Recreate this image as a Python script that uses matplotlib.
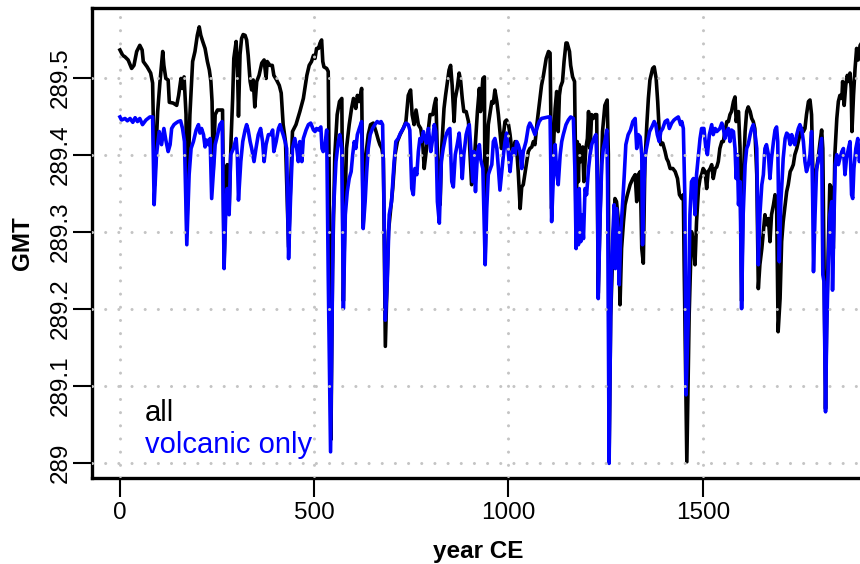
import matplotlib
matplotlib.use("Agg")
import matplotlib.pyplot as plt

plt.rcParams['font.family'] = ['Liberation Sans', 'DejaVu Sans']

# ---- data ----
years_all = [0, 7, 13, 21, 30, 36, 43, 51, 57, 60, 70, 79, 84, 89, 97, 103, 110, 113, 118, 124,
             127, 137, 146, 151, 157, 161, 165, 170, 172, 177, 180, 187, 193, 199, 204, 208, 213, 219, 225, 230,
             234, 237, 240, 245, 251, 264, 268, 273, 276, 281, 286, 290, 293, 299, 303, 305, 309, 313, 317, 322,
             326, 330, 335, 339, 343, 347, 352, 358, 365, 371, 376, 379, 386, 392, 396, 403, 410, 415, 420, 426,
             434, 439, 444, 453, 463, 472, 481, 487, 493, 498, 502, 506, 511, 515, 519, 522, 525, 532, 536, 538,
             541, 543, 547, 553, 559, 565, 571, 575, 579, 583, 590, 596, 601, 607, 611, 616, 622, 626, 633, 639,
             645, 652, 659, 665, 669, 674, 678, 683, 691, 697, 702, 708, 714, 721, 729, 736, 742, 748, 752, 757,
             762, 768, 774, 779, 783, 789, 794, 798, 805, 809, 813, 817, 824, 828, 834, 838, 843, 847, 851, 855,
             860, 863, 868, 873, 877, 881, 885, 891, 897, 901, 905, 910, 914, 920, 925, 928, 934, 938, 940, 944,
             948, 957, 961, 965, 970, 974, 978, 982, 987, 991, 995, 1000, 1004, 1008, 1012, 1017, 1021, 1025, 1030, 1034,
             1038, 1043, 1047, 1051, 1055, 1060, 1064, 1068, 1073, 1079, 1085, 1090, 1097, 1103, 1107, 1109, 1111, 1115, 1120, 1124,
             1128, 1131, 1134, 1139, 1143, 1148, 1151, 1157, 1160, 1165, 1170, 1172, 1174, 1177, 1180, 1182, 1186, 1191, 1194, 1199,
             1203, 1206, 1210, 1214, 1218, 1223, 1227, 1231, 1236, 1242, 1248, 1254, 1257, 1259, 1263, 1268, 1274, 1278, 1283, 1287,
             1291, 1296, 1300, 1306, 1313, 1320, 1326, 1330, 1334, 1339, 1343, 1347, 1351, 1356, 1360, 1364, 1371, 1375, 1380, 1384,
             1388, 1392, 1397, 1403, 1407, 1411, 1416, 1423, 1429, 1435, 1440, 1446, 1450, 1452, 1459, 1465, 1471, 1476, 1480, 1484,
             1489, 1493, 1497, 1501, 1506, 1510, 1514, 1519, 1523, 1527, 1532, 1536, 1540, 1544, 1549, 1553, 1557, 1562, 1566, 1570,
             1574, 1579, 1583, 1586, 1589, 1592, 1596, 1600, 1604, 1609, 1613, 1617, 1622, 1626, 1630, 1634, 1639, 1643, 1647, 1652,
             1656, 1660, 1664, 1669, 1673, 1677, 1682, 1686, 1690, 1694, 1699, 1703, 1707, 1712, 1716, 1720, 1725, 1729, 1733, 1737,
             1742, 1746, 1750, 1755, 1759, 1763, 1767, 1772, 1776, 1780, 1783, 1786, 1789, 1793, 1797, 1802, 1806, 1809, 1816, 1819,
             1823, 1827, 1832, 1836, 1840, 1845, 1849, 1853, 1858, 1860, 1864, 1868, 1872, 1876, 1879, 1882, 1884, 1888, 1892, 1896,
             1900, 1905, 1915]
gmt_all = [289.536, 289.529, 289.527, 289.523, 289.512, 289.516, 289.534, 289.542, 289.536, 289.521, 289.514, 289.506, 289.493, 289.36, 289.456, 289.495, 289.534, 289.516, 289.499, 289.497,
           289.468, 289.467, 289.464, 289.477, 289.499, 289.486, 289.501, 289.452, 289.30, 289.40, 289.452, 289.521, 289.534, 289.555, 289.566, 289.555, 289.547, 289.538, 289.521, 289.510,
           289.495, 289.469, 289.38, 289.452, 289.458, 289.458, 289.26, 289.36, 289.387, 289.33, 289.42, 289.473, 289.525, 289.547, 289.50, 289.45, 289.53, 289.551, 289.556, 289.555,
           289.549, 289.529, 289.495, 289.484, 289.497, 289.462, 289.495, 289.503, 289.519, 289.523, 289.499, 289.521, 289.516, 289.516, 289.503, 289.497, 289.490, 289.480, 289.439, 289.417,
           289.28, 289.36, 289.430, 289.439, 289.456, 289.473, 289.503, 289.516, 289.521, 289.529, 289.525, 289.538, 289.538, 289.545, 289.549, 289.521, 289.514, 289.512, 289.508, 289.40,
           289.20, 289.03, 289.25, 289.400, 289.452, 289.469, 289.473, 289.21, 289.33, 289.408, 289.439, 289.460, 289.473, 289.460, 289.477, 289.469, 289.486, 289.31, 289.400, 289.426,
           289.439, 289.441, 289.430, 289.419, 289.413, 289.408, 289.395, 289.151, 289.300, 289.330, 289.356, 289.400, 289.417, 289.426, 289.434, 289.443, 289.477, 289.484, 289.452, 289.439,
           289.458, 289.439, 289.434, 289.417, 289.382, 289.408, 289.434, 289.452, 289.452, 289.464, 289.473, 289.400, 289.335, 289.408, 289.460, 289.477, 289.495, 289.510, 289.516, 289.490,
           289.443, 289.473, 289.486, 289.506, 289.495, 289.473, 289.456, 289.456, 289.443, 289.400, 289.361, 289.374, 289.408, 289.456, 289.486, 289.456, 289.499, 289.501, 289.27, 289.38,
           289.439, 289.469, 289.467, 289.484, 289.469, 289.452, 289.430, 289.408, 289.426, 289.443, 289.445, 289.439, 289.426, 289.408, 289.400, 289.417, 289.408, 289.378, 289.330, 289.358,
           289.361, 289.378, 289.391, 289.404, 289.408, 289.410, 289.417, 289.413, 289.439, 289.464, 289.490, 289.503, 289.525, 289.534, 289.532, 289.447, 289.33, 289.400, 289.460, 289.482,
           289.430, 289.477, 289.488, 289.495, 289.521, 289.545, 289.545, 289.534, 289.516, 289.501, 289.495, 289.417, 289.29, 289.417, 289.365, 289.413, 289.391, 289.410, 289.365, 289.408,
           289.421, 289.456, 289.408, 289.452, 289.447, 289.452, 289.452, 289.22, 289.33, 289.430, 289.464, 289.471, 289.400, 289.01, 289.19, 289.270, 289.343, 289.339, 289.313, 289.205,
           289.278, 289.313, 289.335, 289.348, 289.361, 289.369, 289.374, 289.339, 289.374, 289.378, 289.278, 289.259, 289.387, 289.439, 289.473, 289.497, 289.512, 289.514, 289.499, 289.469,
           289.430, 289.413, 289.415, 289.404, 289.395, 289.391, 289.382, 289.382, 289.378, 289.369, 289.348, 289.343, 289.348, 289.261, 289.001, 289.192, 289.300, 289.287, 289.257, 289.313,
           289.356, 289.369, 289.374, 289.382, 289.378, 289.356, 289.378, 289.382, 289.387, 289.369, 289.382, 289.384, 289.391, 289.408, 289.417, 289.417, 289.430, 289.443, 289.443, 289.452,
           289.456, 289.469, 289.475, 289.443, 289.452, 289.456, 289.408, 289.21, 289.365, 289.430, 289.456, 289.462, 289.456, 289.447, 289.443, 289.434, 289.374, 289.226, 289.257, 289.278,
           289.300, 289.322, 289.309, 289.317, 289.287, 289.322, 289.335, 289.348, 289.339, 289.170, 289.213, 289.287, 289.313, 289.335, 289.352, 289.361, 289.378, 289.382, 289.387, 289.400,
           289.408, 289.417, 289.426, 289.434, 289.430, 289.434, 289.452, 289.469, 289.471, 289.452, 289.387, 289.339, 289.365, 289.382, 289.395, 289.417, 289.432, 289.408, 289.07, 289.192,
           289.278, 289.361, 289.356, 289.278, 289.400, 289.447, 289.469, 289.477, 289.473, 289.495, 289.464, 289.490, 289.503, 289.495, 289.506, 289.486, 289.430, 289.477, 289.512, 289.538,
           289.523, 289.542, 289.55]

years_volc = [0, 4, 13, 19, 26, 33, 39, 45, 51, 58, 67, 77, 84, 88, 94, 101, 107, 113, 118, 124,
              129, 133, 139, 144, 150, 156, 161, 166, 172, 178, 183, 189, 196, 202, 206, 210, 215, 219, 223, 227,
              232, 236, 240, 245, 249, 257, 263, 268, 273, 276, 281, 285, 292, 299, 302, 305, 311, 316, 322, 326,
              330, 335, 339, 345, 350, 356, 362, 367, 371, 376, 382, 388, 393, 396, 402, 408, 412, 416, 420, 425,
              429, 434, 439, 444, 450, 455, 459, 463, 468, 472, 479, 485, 491, 498, 502, 506, 511, 517, 520, 523,
              528, 532, 536, 542, 549, 556, 562, 566, 571, 575, 580, 585, 590, 595, 599, 603, 607, 611, 616, 622,
              626, 631, 635, 639, 644, 650, 656, 662, 668, 672, 676, 680, 683, 688, 693, 699, 705, 710, 716, 722,
              729, 736, 742, 746, 751, 755, 759, 764, 768, 772, 776, 781, 785, 789, 794, 800, 805, 809, 813, 817,
              822, 827, 832, 837, 841, 845, 849, 854, 858, 863, 868, 873, 877, 881, 885, 891, 895, 899, 903, 908,
              911, 915, 920, 925, 928, 934, 937, 940, 944, 948, 952, 957, 961, 965, 970, 974, 978, 982, 987, 991,
              995, 1000, 1004, 1008, 1012, 1017, 1021, 1025, 1030, 1034, 1038, 1045, 1051, 1055, 1062, 1068, 1073, 1079, 1085, 1094,
              1103, 1107, 1111, 1115, 1120, 1124, 1128, 1133, 1137, 1141, 1148, 1154, 1160, 1167, 1171, 1174, 1177, 1180, 1182, 1186,
              1189, 1193, 1197, 1201, 1206, 1210, 1214, 1220, 1225, 1229, 1231, 1236, 1240, 1244, 1248, 1253, 1255, 1259, 1263, 1266,
              1272, 1275, 1278, 1283, 1285, 1289, 1294, 1298, 1302, 1308, 1314, 1320, 1326, 1330, 1334, 1339, 1343, 1345, 1349, 1352,
              1357, 1363, 1369, 1375, 1379, 1383, 1388, 1392, 1397, 1403, 1409, 1414, 1420, 1426, 1431, 1437, 1443, 1446, 1450, 1454,
              1457, 1463, 1467, 1471, 1476, 1480, 1484, 1489, 1493, 1497, 1503, 1508, 1512, 1517, 1523, 1527, 1532, 1536, 1540, 1544,
              1549, 1553, 1557, 1562, 1566, 1570, 1574, 1579, 1583, 1586, 1589, 1592, 1596, 1600, 1604, 1609, 1613, 1617, 1622, 1626,
              1630, 1634, 1639, 1643, 1647, 1652, 1656, 1660, 1664, 1669, 1673, 1677, 1682, 1686, 1690, 1693, 1697, 1701, 1704, 1707,
              1712, 1716, 1720, 1725, 1729, 1733, 1737, 1742, 1746, 1750, 1755, 1759, 1763, 1767, 1772, 1776, 1780, 1783, 1785, 1789,
              1793, 1797, 1802, 1806, 1809, 1812, 1816, 1819, 1823, 1827, 1832, 1834, 1838, 1841, 1845, 1849, 1853, 1858, 1862, 1866,
              1870, 1875, 1879, 1883, 1886, 1889, 1894, 1899, 1903, 1909, 1915]
gmt_volc = [289.449, 289.445, 289.447, 289.444, 289.447, 289.442, 289.448, 289.443, 289.447, 289.439, 289.445, 289.449, 289.449, 289.335, 289.400, 289.430, 289.413, 289.434, 289.419, 289.404,
            289.413, 289.434, 289.439, 289.441, 289.443, 289.444, 289.434, 289.417, 289.283, 289.374, 289.408, 289.417, 289.432, 289.439, 289.428, 289.434, 289.426, 289.410, 289.419, 289.413,
            289.421, 289.343, 289.374, 289.413, 289.421, 289.439, 289.443, 289.252, 289.339, 289.356, 289.322, 289.400, 289.408, 289.421, 289.400, 289.341, 289.391, 289.417, 289.432, 289.439,
            289.432, 289.417, 289.408, 289.391, 289.408, 289.426, 289.434, 289.417, 289.391, 289.413, 289.426, 289.426, 289.432, 289.404, 289.417, 289.434, 289.439, 289.432, 289.426, 289.417,
            289.408, 289.265, 289.343, 289.408, 289.421, 289.408, 289.391, 289.417, 289.391, 289.421, 289.432, 289.439, 289.441, 289.432, 289.430, 289.434, 289.432, 289.436, 289.408, 289.404,
            289.413, 289.432, 289.244, 289.014, 289.322, 289.391, 289.417, 289.426, 289.408, 289.200, 289.322, 289.352, 289.369, 289.378, 289.400, 289.417, 289.408, 289.426, 289.434, 289.443,
            289.304, 289.339, 289.378, 289.408, 289.426, 289.434, 289.439, 289.443, 289.441, 289.443, 289.439, 289.322, 289.185, 289.235, 289.322, 289.339, 289.387, 289.417, 289.421, 289.428,
            289.434, 289.441, 289.439, 289.432, 289.356, 289.348, 289.382, 289.374, 289.404, 289.421, 289.417, 289.430, 289.421, 289.415, 289.434, 289.404, 289.421, 289.439, 289.430, 289.339,
            289.311, 289.391, 289.408, 289.421, 289.428, 289.432, 289.434, 289.365, 289.358, 289.400, 289.413, 289.428, 289.404, 289.369, 289.400, 289.426, 289.434, 289.439, 289.408, 289.365,
            289.404, 289.352, 289.400, 289.413, 289.395, 289.382, 289.322, 289.257, 289.330, 289.374, 289.380, 289.387, 289.417, 289.421, 289.408, 289.382, 289.354, 289.374, 289.400, 289.417,
            289.428, 289.400, 289.378, 289.400, 289.408, 289.400, 289.417, 289.413, 289.404, 289.382, 289.404, 289.417, 289.436, 289.441, 289.434, 289.426, 289.434, 289.443, 289.447, 289.448,
            289.449, 289.449, 289.313, 289.365, 289.413, 289.378, 289.361, 289.400, 289.417, 289.426, 289.439, 289.445, 289.449, 289.447, 289.378, 289.278, 289.322, 289.283, 289.356, 289.287,
            289.322, 289.291, 289.356, 289.348, 289.382, 289.400, 289.413, 289.421, 289.426, 289.365, 289.213, 289.322, 289.387, 289.408, 289.417, 289.432, 289.365, 288.999, 289.192, 289.270,
            289.335, 289.252, 289.330, 289.278, 289.231, 289.300, 289.339, 289.374, 289.413, 289.426, 289.432, 289.443, 289.447, 289.408, 289.426, 289.423, 289.400, 289.283, 289.365, 289.400,
            289.413, 289.430, 289.436, 289.443, 289.439, 289.426, 289.417, 289.430, 289.434, 289.443, 289.445, 289.434, 289.441, 289.445, 289.447, 289.449, 289.439, 289.443, 289.434, 289.343,
            289.088, 289.192, 289.322, 289.365, 289.369, 289.322, 289.374, 289.400, 289.421, 289.434, 289.434, 289.408, 289.400, 289.426, 289.439, 289.426, 289.434, 289.430, 289.432, 289.434,
            289.441, 289.434, 289.421, 289.430, 289.434, 289.417, 289.432, 289.430, 289.408, 289.369, 289.400, 289.335, 289.365, 289.200, 289.322, 289.387, 289.408, 289.413, 289.426, 289.434,
            289.439, 289.430, 289.408, 289.257, 289.322, 289.361, 289.374, 289.408, 289.413, 289.400, 289.369, 289.395, 289.417, 289.432, 289.436, 289.417, 289.261, 289.339, 289.365, 289.395,
            289.421, 289.428, 289.426, 289.413, 289.426, 289.417, 289.413, 289.426, 289.434, 289.439, 289.432, 289.417, 289.391, 289.378, 289.387, 289.400, 289.430, 289.339, 289.248, 289.322,
            289.382, 289.391, 289.408, 289.421, 289.244, 289.235, 289.066, 289.170, 289.257, 289.322, 289.339, 289.224, 289.322, 289.387, 289.400, 289.387, 289.395, 289.404, 289.408, 289.374,
            289.395, 289.408, 289.417, 289.348, 289.343, 289.382, 289.408, 289.421, 289.391, 289.400, 289.410]

x_ticks = [0, 500, 1000, 1500]
y_ticks = [289.0, 289.1, 289.2, 289.3, 289.4, 289.5]
y_tick_labels = ["289", "289.1", "289.2", "289.3", "289.4", "289.5"]
legend_labels = ["all", "volcanic only"]
series_colors = ["black", "#0000ff"]

# ---- figure ----
fig = plt.figure(figsize=(8.6, 5.64), dpi=100)
ax = fig.add_axes([92 / 860, 86 / 564, 772 / 860, 470 / 564])

ax.plot(years_all, gmt_all, color=series_colors[0], lw=2.6, solid_joinstyle='round', zorder=2)
ax.plot(years_volc, gmt_volc, color=series_colors[1], lw=2.6, solid_joinstyle='round', zorder=2.1)

ax.set_xlim(-72, 1915)
ax.set_ylim(288.980, 289.5905)

ax.set_xticks(x_ticks)
ax.set_yticks(y_ticks)
ax.set_yticklabels(y_tick_labels, rotation=90, va='center')

ax.set_axisbelow(False)
ax.grid(True, color='#c4c4c4', linestyle=(0, (0.01, 4.3)), linewidth=2.2,
        dash_capstyle='round')

for s in ax.spines.values():
    s.set_linewidth(2.4)
ax.tick_params(axis='both', length=13.5, width=1.5, labelsize=17.5)
ax.tick_params(axis='x', pad=3.6)
ax.tick_params(axis='y', pad=1)

ax.set_xlabel('year CE', fontsize=17.5, fontweight='bold', va='center')
ax.xaxis.set_label_coords(0.5, (478 - 551.5) / 470)
ax.set_ylabel('GMT', fontsize=17.5, fontweight='bold', va='center', ha='center')
ax.yaxis.set_label_coords((22 - 92) / 772, 0.5)

ax.text(0.0687, 0.121, legend_labels[0], color=series_colors[0], fontsize=21,
        transform=ax.transAxes, va='baseline', ha='left')
ax.text(0.0687, 0.053, legend_labels[1], color=series_colors[1], fontsize=21,
        transform=ax.transAxes, va='baseline', ha='left')

fig.savefig('out.png', dpi=100)
